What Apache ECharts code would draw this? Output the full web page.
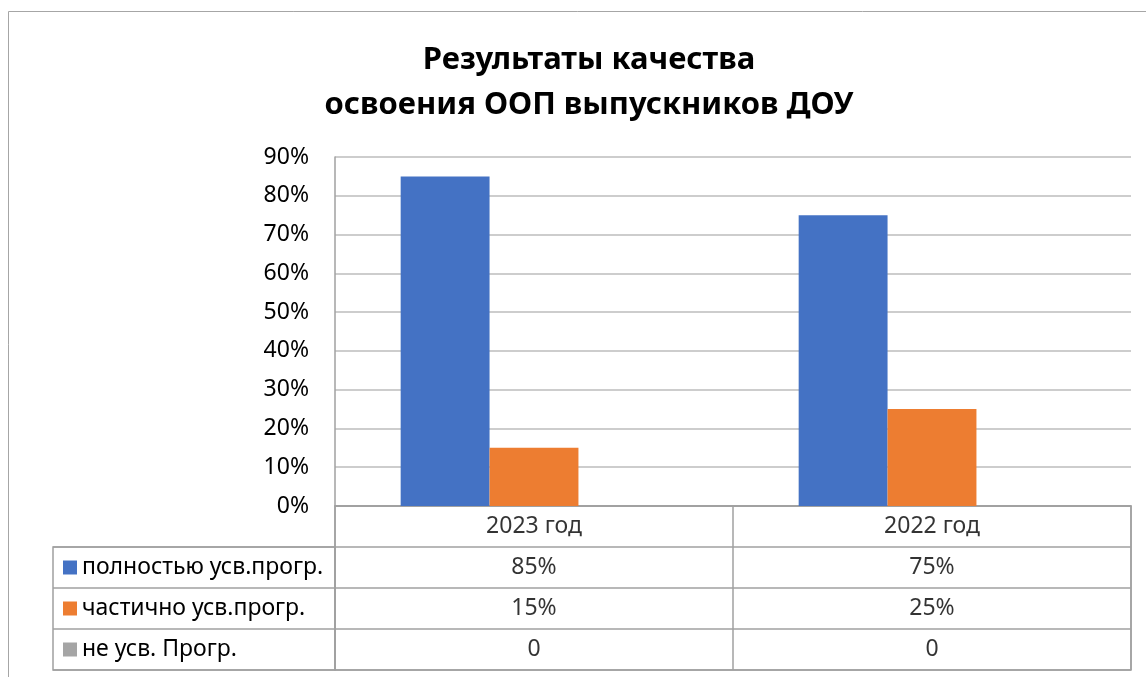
<!DOCTYPE html>
<html><head><meta charset="utf-8">
<script src="https://cdn.jsdelivr.net/npm/echarts@6/dist/echarts.min.js"></script>
<style>html,body{margin:0;padding:0;background:#fff}#c{width:1146px;height:677px}</style>
</head><body><div id="c"></div>
<script>
const titleText = 'Результаты качества\nосвоения ООП выпускников ДОУ';
const categories = ['2023 год', '2022 год'];
const seriesNames = ['полностью усв.прогр.', 'частично усв.прогр.', 'не усв. Прогр.'];
const fullValues = [0.85, 0.75];
const partialValues = [0.15, 0.25];
const noneValues = [0, 0];
const seriesColors = ['#4472c4', '#ed7d31', '#a5a5a5'];
const yMin = 0, yMax = 0.9, yStep = 0.1;

const allValues = [fullValues, partialValues, noneValues];
const FONT = 'Noto Sans';
const FS = 23;
const headerKey = 'hdr';
const tableRows = [headerKey].concat(seriesNames);
const fmtPct = v => v === 0 ? '0' : Math.round(v * 100) + '%';

const tableData = [];
categories.forEach((c, i) => {
  tableData.push([c, headerKey, c]);
  allValues.forEach((vals, s) => tableData.push([c, seriesNames[s], fmtPct(vals[i])]));
});

const rich = {};
seriesNames.forEach((n, i) => { rich['s' + i] = { width: 14, height: 14, backgroundColor: seriesColors[i] }; });
rich.t = { fontFamily: FONT, fontSize: FS, color: '#000', padding: [0, 0, 0, 5] };

const chart = echarts.init(document.getElementById('c'));
chart.setOption({
  animation: false,
  backgroundColor: '#fff',
  title: {
    text: titleText, left: 584, top: 33, textAlign: 'center',
    textStyle: { fontFamily: FONT, fontWeight: 'bold', fontSize: 31, lineHeight: 45, color: '#000' }
  },
  graphic: [{
    type: 'rect', silent: true, z: -1,
    shape: { x: 8.5, y: 11.5, width: 1300, height: 800 },
    style: { fill: null, stroke: '#a6a6a6', lineWidth: 1 }
  }],
  grid: [
    { left: 335, right: 15, top: 157, height: 349 },
    { left: 335, right: 15, top: 506, height: 164, show: true, borderColor: '#a0a0a0', borderWidth: 1.5 },
    { left: 53, width: 282, top: 547, height: 123, show: true, borderColor: '#a0a0a0', borderWidth: 1.5 }
  ],
  xAxis: [
    { type: 'category', gridIndex: 0, data: categories,
      axisLine: { show: true, lineStyle: { color: '#a0a0a0', width: 1.5 } },
      axisTick: { show: false }, axisLabel: { show: false } },
    { type: 'category', gridIndex: 1, data: categories,
      axisLine: { show: false }, axisTick: { show: false }, axisLabel: { show: false },
      splitLine: { show: true, lineStyle: { color: '#a0a0a0', width: 1.5 } } },
    { type: 'value', gridIndex: 2, show: false }
  ],
  yAxis: [
    { type: 'value', gridIndex: 0, min: yMin, max: yMax, interval: yStep,
      axisLine: { show: true, lineStyle: { color: '#a0a0a0', width: 1.5 } },
      axisTick: { show: false },
      axisLabel: { formatter: v => Math.round(v * 100) + '%', fontFamily: FONT, fontSize: FS, color: '#000', margin: 26 },
      splitLine: { show: true, lineStyle: { color: '#bcbcbc', width: 1.5 } } },
    { type: 'category', gridIndex: 1, data: tableRows, inverse: true,
      axisLine: { show: false }, axisTick: { show: false }, axisLabel: { show: false },
      splitLine: { show: true, lineStyle: { color: '#a0a0a0', width: 1.5 } } },
    { type: 'category', gridIndex: 2, data: seriesNames, inverse: true,
      axisLine: { show: false }, axisTick: { show: false },
      axisLabel: { inside: true, margin: 10, align: 'left',
        formatter: (v, i) => '{s' + i + '|}{t|' + v + '}', rich: rich },
      splitLine: { show: true, lineStyle: { color: '#a0a0a0', width: 1.5 } } }
  ],
  series: seriesNames.map((n, s) => ({
    type: 'bar', name: n, xAxisIndex: 0, yAxisIndex: 0,
    data: allValues[s], barGap: '0%', barCategoryGap: '33%',
    itemStyle: { color: seriesColors[s] }
  })).concat([{
    type: 'scatter', xAxisIndex: 1, yAxisIndex: 1, symbolSize: 0,
    data: tableData,
    label: { show: true, position: 'inside', formatter: p => p.value[2],
      fontFamily: FONT, fontSize: FS, color: '#000' }
  }])
});
</script></body></html>
